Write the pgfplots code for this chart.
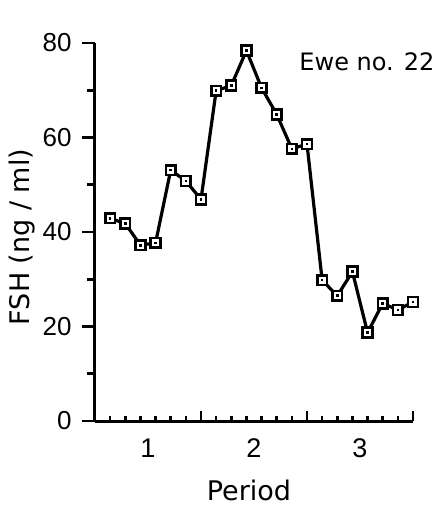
\documentclass[border=0pt]{standalone}
\usepackage{fontspec}
\setmainfont{DejaVu Sans}
\newfontfamily\tickfont{Liberation Sans}
\usepackage{pgfplots}
\pgfplotsset{compat=1.18}
\usepackage{pgfplotstable}

\pgfdeclareplotmark{sqdot}{%
 \pgfpathrectangle{\pgfpoint{-\pgfplotmarksize}{-\pgfplotmarksize}}{\pgfpoint{2\pgfplotmarksize}{2\pgfplotmarksize}}%
 \pgfusepathqfillstroke
 \begin{pgfscope}%
 \pgfsetfillcolor{black}%
 \pgfpathrectangle{\pgfpoint{-1.3pt}{-1.3pt}}{\pgfpoint{2.6pt}{2.6pt}}%
 \pgfusepathqfill
 \end{pgfscope}%
}

\pgfplotstableread{
x y
1 42.9
2 41.8
3 37.2
4 37.7
5 53.1
6 50.8
7 46.9
8 69.9
9 71.0
10 78.4
11 70.5
12 64.9
13 57.6
14 58.6
15 29.8
16 26.5
17 31.6
18 18.7
19 24.9
20 23.5
21 25.2
}\fsh

\begin{document}
\begin{tikzpicture}
\useasboundingbox (-95pt,-92pt) rectangle (344pt,421pt);
% x axis with inward ticks
\begin{axis}[at={(0,0)}, anchor=south west, scale only axis,
  width=318pt, height=378pt, xmin=0, xmax=21, ymin=0, ymax=80,
  axis y line=none, axis x line*=bottom,
  axis line style={line width=3pt,-},
  tick align=inside,
  xtick={7,14,21}, xticklabels={},
  minor xtick={1,...,21},
  major tick length=10pt, minor tick length=5pt,
  tick style={line width=2.6pt, black},
  ytick=\empty,
  extra x ticks={3.5,10.5,17.5},
  extra x tick labels={1,2,3},
  extra x tick style={major tick length=0pt},
  xticklabel style={font=\tickfont\fontsize{27}{27}\selectfont, yshift=-14pt},
  /pgf/number format/assume math mode=true,
  xlabel={Period},
  xlabel style={at={(axis description cs:0.484,-0.1825)}, anchor=center, font=\fontsize{27}{27}\selectfont},
]
\end{axis}
% y axis and data
\begin{axis}[at={(0,0)}, anchor=south west, scale only axis,
  width=318pt, height=378pt, xmin=0, xmax=21, ymin=0, ymax=80,
  axis x line=none, axis y line*=left,
  axis line style={line width=3pt,-},
  tick align=outside,
  xtick=\empty,
  ytick={0,20,40,60,80}, minor ytick={10,30,50,70},
  major tick length=13pt, minor tick length=7.5pt,
  tick style={line width=2.6pt, black},
  yticklabel style={font=\tickfont\fontsize{26}{26}\selectfont, xshift=-7pt},
  /pgf/number format/assume math mode=true,
  ylabel={FSH (ng / ml)},
  ylabel style={at={(axis description cs:-0.2296,0.487)}, anchor=center, font=\fontsize{27}{27}\selectfont},
  clip=false,
]
\addplot[black, line width=3.2pt, mark=sqdot, mark size=4.9pt,
  mark options={fill=white, line width=2.6pt}] table[x=x,y=y] {\fsh};
\node[font=\fontsize{24}{24}\selectfont] at (axis cs:17.96,76) {Ewe no. 22};
\end{axis}
\end{tikzpicture}
\end{document}
